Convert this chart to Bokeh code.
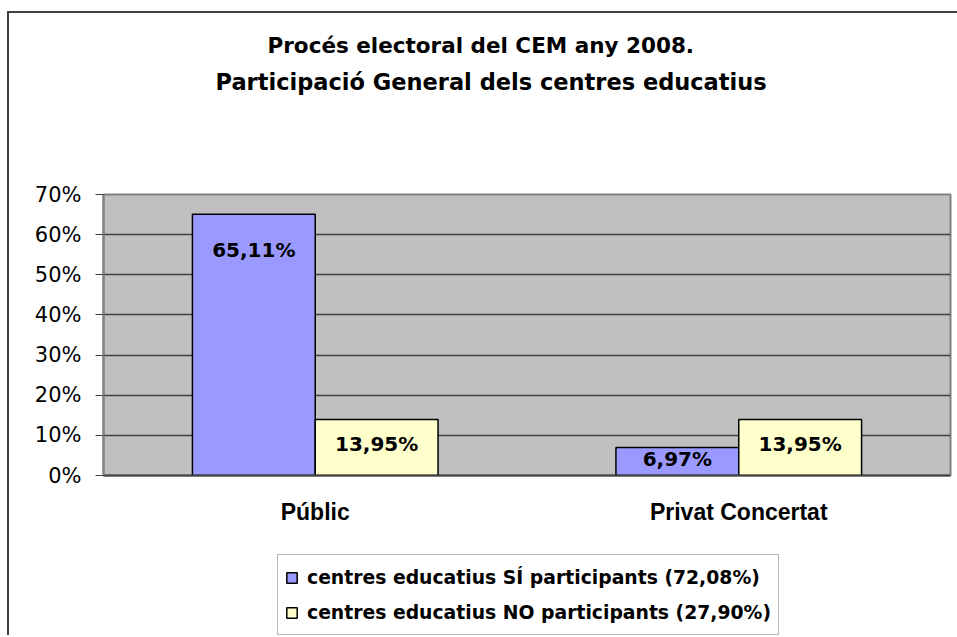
from bokeh.plotting import figure
from bokeh.layouts import column
from bokeh.models import (ColumnDataSource, FactorRange, Range1d, NumeralTickFormatter,
                          Legend, LegendItem, Title, FixedTicker)
from bokeh.transform import dodge
from bokeh.core.properties import value
from bokeh.embed import file_html
from bokeh.resources import INLINE

# ---- data ----
categories = ["Públic", "Privat Concertat"]
si_values = [0.6511, 0.0697]
no_values = [0.1395, 0.1395]
si_labels = ["65,11%", "6,97%"]
no_labels = ["13,95%", "13,95%"]
series_names = ["centres educatius SÍ participants (72,08%)",
                "centres educatius NO participants (27,90%)"]
y_ticks = [0.0, 0.1, 0.2, 0.3, 0.4, 0.5, 0.6, 0.7]
title_lines = ["Procés electoral del CEM any 2008.",
               "Participació General dels centres educatius"]

SI_COLOR = "#9999FF"
NO_COLOR = "#FFFFCC"
ARIAL = "Liberation Sans"
WIDE = "DejaVu Sans"

src = ColumnDataSource(dict(cat=categories, si=si_values, no=no_values,
                            si_lab=si_labels, no_lab=no_labels,
                            si_off=[36, 11], no_off=[24, 24]))

p = figure(width=948, height=540, x_range=FactorRange(factors=categories, range_padding=0),
           y_range=Range1d(0, 0.7), output_backend="svg", toolbar_location=None,
           min_border_left=94, min_border_right=7, min_border_top=181, min_border_bottom=78)

p.background_fill_color = "#C0C0C0"
p.border_fill_color = "white"
p.outline_line_color = "#808080"
p.outline_line_width = 2

bw = 0.29
r_si = p.vbar(x=dodge("cat", -bw / 2, range=p.x_range), top="si", width=bw, source=src,
              fill_color=SI_COLOR, line_color="black", line_width=1.5)
r_no = p.vbar(x=dodge("cat", bw / 2, range=p.x_range), top="no", width=bw, source=src,
              fill_color=NO_COLOR, line_color="black", line_width=1.5)

p.text(x=dodge("cat", -bw / 2, range=p.x_range), y="si", text="si_lab", y_offset="si_off",
       source=src, text_align="center", text_baseline="middle",
       text_font=value(WIDE), text_font_style="bold", text_font_size="20px", text_color="black")
p.text(x=dodge("cat", bw / 2, range=p.x_range), y="no", text="no_lab", y_offset="no_off",
       source=src, text_align="center", text_baseline="middle",
       text_font=value(WIDE), text_font_style="bold", text_font_size="20px", text_color="black")

# axes
p.yaxis.ticker = FixedTicker(ticks=y_ticks)
p.yaxis.formatter = NumeralTickFormatter(format="0%")
p.yaxis.major_label_text_font = WIDE
p.yaxis.major_label_text_font_size = "21px"
p.yaxis.major_label_text_color = "black"
p.yaxis.axis_line_color = "#808080"
p.yaxis.axis_line_width = 2
p.yaxis.major_tick_line_color = "#404040"
p.yaxis.major_tick_out = 8
p.yaxis.major_tick_in = 0
p.yaxis.minor_tick_line_color = None
p.yaxis.major_label_standoff = 14

p.xaxis.axis_line_color = "#404040"
p.xaxis.axis_line_width = 2
p.xaxis.major_tick_line_color = None
p.xaxis.minor_tick_line_color = None
p.xaxis.major_label_text_font = ARIAL
p.xaxis.major_label_text_font_style = "bold"
p.xaxis.major_label_text_font_size = "23px"
p.xaxis.major_label_text_color = "black"
p.xaxis.major_label_standoff = 17

p.xgrid.grid_line_color = None
p.ygrid.ticker = FixedTicker(ticks=y_ticks[1:-1])
p.ygrid.grid_line_color = "#404040"
p.ygrid.grid_line_width = 1.5

# titles: spacer closest to the frame, then line 2, then line 1
p.title = None
spacer = Title(text=" ", text_font_size="1px", standoff=92)
t2 = Title(text=title_lines[1], align="left", offset=112, standoff=9,
           text_font=WIDE, text_font_style="bold", text_font_size="22.5px", text_color="black")
t1 = Title(text=title_lines[0], align="left", offset=164, standoff=9,
           text_font=WIDE, text_font_style="bold", text_font_size="21.5px", text_color="black")
p.add_layout(spacer, "above")
p.add_layout(t2, "above")
p.add_layout(t1, "above")

# legend figure: tiny swatch renderers sit underneath the opaque legend box
q = figure(width=948, height=82, output_backend="svg", toolbar_location=None,
           x_axis_type=None, y_axis_type=None, x_range=Range1d(0, 1), y_range=Range1d(0, 1),
           min_border_left=0, min_border_right=0, min_border_top=0, min_border_bottom=0)
q.outline_line_color = None
q.background_fill_color = "white"
q.border_fill_color = "white"
sw_src = ColumnDataSource(dict(x=[0.5], top=[0.5], bottom=[0.45]))
l_si = q.vbar(x="x", top="top", bottom="bottom", width=0.01, source=sw_src,
              fill_color=SI_COLOR, line_color="black", line_width=1.5)
l_no = q.vbar(x="x", top="top", bottom="bottom", width=0.01, source=sw_src,
              fill_color=NO_COLOR, line_color="black", line_width=1.5)

legend = Legend(items=[LegendItem(label=series_names[0], renderers=[l_si]),
                       LegendItem(label=series_names[1], renderers=[l_no])],
                location=(174, 0), orientation="vertical",
                label_text_font=WIDE, label_text_font_style="bold", label_text_font_size="18.8px",
                label_text_color="black", label_height=30, glyph_width=13, glyph_height=13,
                label_standoff=9, spacing=5, padding=7, margin=0,
                border_line_color="#707070", border_line_width=1.5,
                background_fill_color="white", background_fill_alpha=1.0)
q.add_layout(legend, "center")

page = column(p, q, spacing=0,
              styles={"border-left": "2px solid #404040", "border-top": "2px solid #404040",
                      "margin-left": "7px", "margin-top": "11px"})

open("out.html", "w").write(file_html(page, INLINE))
